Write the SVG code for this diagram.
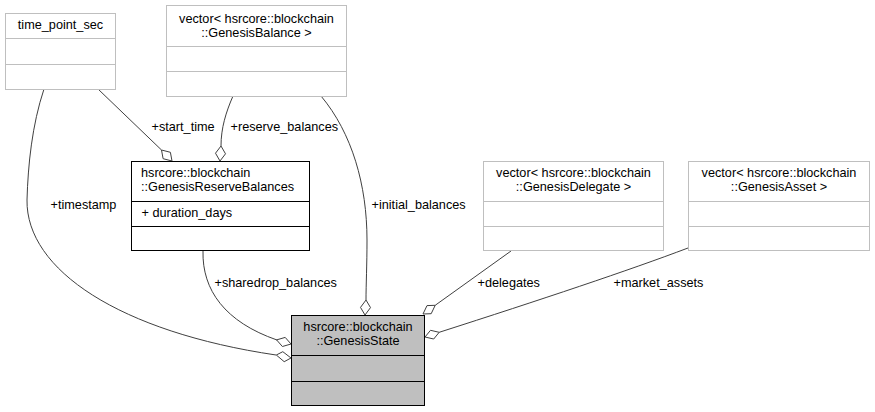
<svg xmlns="http://www.w3.org/2000/svg" width="875" height="412" viewBox="0 0 875 412">
<style>
text{font-family:"Liberation Sans",Arial,sans-serif;font-size:12.7px;fill:#000}
.c{text-anchor:middle}
.ext{fill:#fff;stroke:#bfbfbf;stroke-width:1}
.extl{stroke:#bfbfbf;stroke-width:1}
.main{fill:#fff;stroke:#000;stroke-width:1}
.mainl{stroke:#000;stroke-width:1}
.cur{fill:#bfbfbf;stroke:#000;stroke-width:1}
.e{fill:none;stroke:#404040;stroke-width:1}
.d{fill:#fff;stroke:#404040;stroke-width:1}
</style>
<rect width="875" height="412" fill="#fff"/>
<g id="edges">
<path class="e" d="M44,89 C32,125 28,165 27,200 C26,270 120,332 276,355"/>
<polygon class="d" points="291,358 282.8,351.7 276.3,355 284.2,361.7"/>
<path class="e" d="M98,89 L161.5,150"/>
<polygon class="d" points="172,161 170.4,152.3 161.5,150 163.1,158.7"/>
<path class="e" d="M233,96 C226,112 221,128 221,146"/>
<polygon class="d" points="220,161 225.5,153.8 221,146 215.5,153.2"/>
<path class="e" d="M321,96 C352,133 367,185 367,240 C367,265 366,285 366,300"/>
<polygon class="d" points="365,315 370.5,307.6 366,300 360.5,307.4"/>
<path class="e" d="M203,251 C202,290 225,322 277,340"/>
<polygon class="d" points="291,344 285.2,337.4 276.6,339.9 282.4,346.5"/>
<path class="e" d="M511,251 L435.2,305.3"/>
<polygon class="d" points="423,314 427.0,305.6 435.2,305.3 431.2,313.7"/>
<path class="e" d="M688,248 C630,270 540,300 439.2,332.3"/>
<polygon class="d" points="425,337 430.5,330.3 439.2,332.3 433.7,339.0"/>
<text x="50.5" y="209">+timestamp</text>
<text x="151.5" y="131">+start_time</text>
<text x="230.5" y="131">+reserve_balances</text>
<text x="371.5" y="209">+initial_balances</text>
<text x="214.5" y="287">+sharedrop_balances</text>
<text x="477.5" y="287">+delegates</text>
<text x="613.5" y="287">+market_assets</text>
</g>
<g id="time_point_sec">
<rect class="ext" x="5.5" y="13.5" width="110" height="76"/>
<line class="extl" x1="5.5" y1="38.5" x2="115.5" y2="38.5"/>
<line class="extl" x1="5.5" y1="64.5" x2="115.5" y2="64.5"/>
<text class="c" x="60.5" y="29">time_point_sec</text>
</g>
<g id="vector_GenesisBalance">
<rect class="ext" x="166.5" y="5.5" width="180" height="91"/>
<line class="extl" x1="166.5" y1="46.5" x2="346.5" y2="46.5"/>
<line class="extl" x1="166.5" y1="71.5" x2="346.5" y2="71.5"/>
<text class="c" x="256.5" y="23">vector&lt; hsrcore::blockchain</text>
<text class="c" x="256.5" y="37">::GenesisBalance &gt;</text>
</g>
<g id="GenesisReserveBalances">
<rect class="main" x="131.5" y="161.5" width="178" height="89"/>
<line class="mainl" x1="131.5" y1="201.5" x2="309.5" y2="201.5"/>
<line class="mainl" x1="131.5" y1="226.5" x2="309.5" y2="226.5"/>
<text x="141" y="177">hsrcore::blockchain</text>
<text x="141" y="191">::GenesisReserveBalances</text>
<text x="141.5" y="217">+ duration_days</text>
</g>
<g id="vector_GenesisDelegate">
<rect class="ext" x="483.5" y="161.5" width="180" height="89"/>
<line class="extl" x1="483.5" y1="201.5" x2="663.5" y2="201.5"/>
<line class="extl" x1="483.5" y1="226.5" x2="663.5" y2="226.5"/>
<text class="c" x="573.5" y="177">vector&lt; hsrcore::blockchain</text>
<text class="c" x="573.5" y="191">::GenesisDelegate &gt;</text>
</g>
<g id="vector_GenesisAsset">
<rect class="ext" x="688.5" y="161.5" width="181" height="89"/>
<line class="extl" x1="688.5" y1="201.5" x2="869.5" y2="201.5"/>
<line class="extl" x1="688.5" y1="226.5" x2="869.5" y2="226.5"/>
<text class="c" x="779" y="177">vector&lt; hsrcore::blockchain</text>
<text class="c" x="779" y="191">::GenesisAsset &gt;</text>
</g>
<g id="GenesisState">
<rect class="cur" x="291.5" y="315.5" width="133" height="90"/>
<line class="mainl" x1="291.5" y1="355.5" x2="424.5" y2="355.5"/>
<line class="mainl" x1="291.5" y1="381.5" x2="424.5" y2="381.5"/>
<text class="c" x="358" y="331">hsrcore::blockchain</text>
<text class="c" x="358" y="345">::GenesisState</text>
</g>
</svg>
